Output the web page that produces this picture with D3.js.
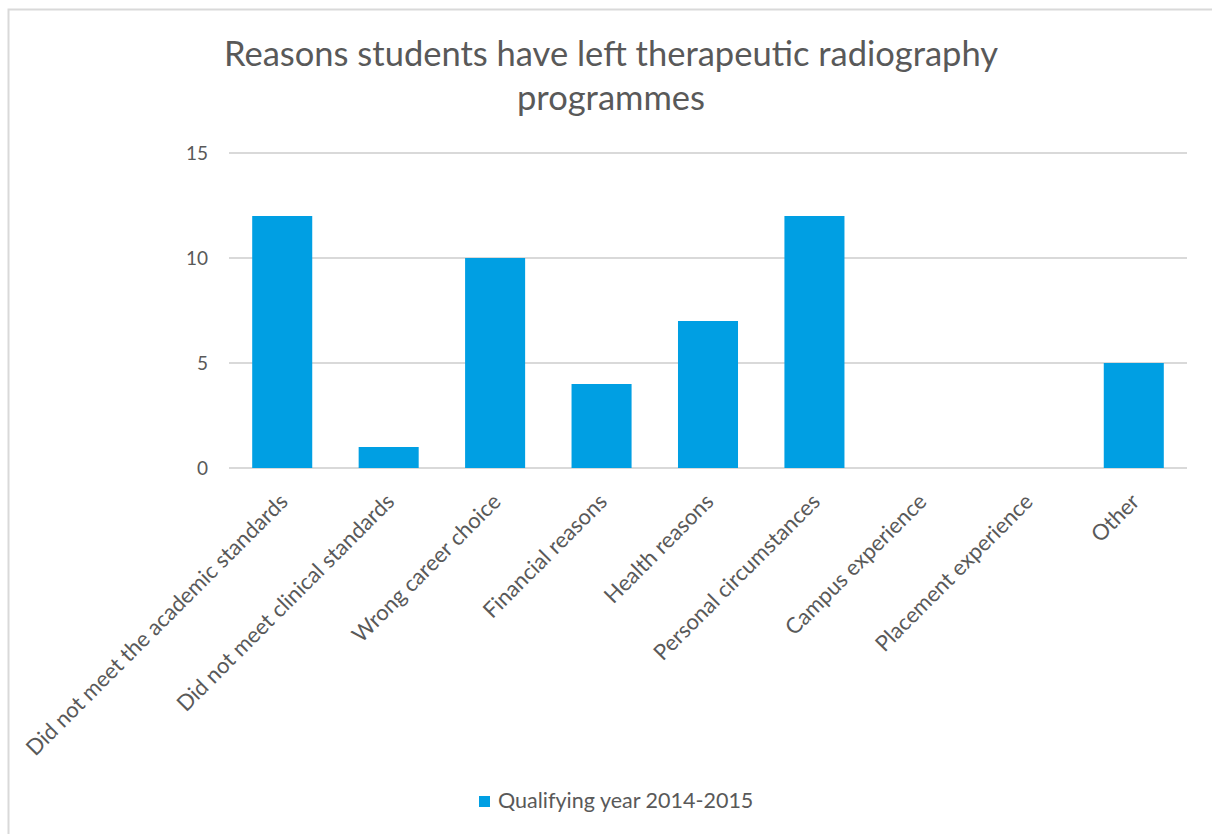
<!DOCTYPE html>
<html><head><meta charset="utf-8">
<script src="https://cdn.jsdelivr.net/npm/d3@7"></script>
<style>body{margin:0;background:#fff}svg{display:block}text{font-family:Lato,"Open Sans",sans-serif}</style>
</head><body><svg id="c" width="1212" height="834"></svg>
<script>
const categories = ["Did not meet the academic standards","Did not meet clinical standards","Wrong career choice","Financial reasons","Health reasons","Personal circumstances","Campus experience","Placement experience","Other"];
const values = [12,1,10,4,7,12,0,0,5];
const yTicks = [0,5,10,15];
const seriesName = "Qualifying year 2014-2015";
const titleLines = ["Reasons students have left therapeutic radiography","programmes"];

const svg = d3.select("#c");
const W=1212,H=834;
const m={left:229,right:1187,top:153,bottom:468};
const barColor="#009FE3", textColor="#595959", gridColor="#D9D9D9";

// chart border
svg.append("rect").attr("x",8.5).attr("y",9.5).attr("width",W+20).attr("height",H+20)
  .attr("fill","none").attr("stroke","#D9D9D9").attr("stroke-width",2);

const x=d3.scaleBand().domain(categories).range([m.left,m.right]).paddingInner(0.436).paddingOuter(0.218);
const y=d3.scaleLinear().domain([0,15]).range([m.bottom,m.top]);

// gridlines
svg.append("g").selectAll("line").data(yTicks).join("line")
  .attr("x1",m.left).attr("x2",m.right).attr("y1",d=>y(d)).attr("y2",d=>y(d))
  .attr("stroke",gridColor).attr("stroke-width",2);

// y axis labels
const ya=svg.append("g").attr("transform",`translate(${m.left-21},0)`)
  .call(d3.axisLeft(y).tickValues(yTicks).tickSize(0).tickPadding(0));
ya.select(".domain").remove();
ya.selectAll("text").attr("fill",textColor).style("font-size","19px").style("font-family","Lato,sans-serif");

// bars
svg.append("g").selectAll("rect").data(values).join("rect")
  .attr("x",(d,i)=>x(categories[i])).attr("width",x.bandwidth())
  .attr("y",d=>y(d)).attr("height",d=>y(0)-y(d)).attr("fill",barColor);

// x labels
const xa=svg.append("g").attr("transform",`translate(0,${m.bottom})`)
  .call(d3.axisBottom(x).tickSize(0).tickPadding(0));
xa.select(".domain").remove();
xa.selectAll("text").attr("fill",textColor).style("font-size","22px").style("font-family","Lato,sans-serif")
  .attr("text-anchor","end").attr("dy",null).attr("y",0)
  .attr("transform","translate(7,35) rotate(-45)");

// title
svg.append("g").selectAll("text").data(titleLines).join("text")
  .attr("x",611).attr("y",(d,i)=>66+i*44).attr("text-anchor","middle")
  .attr("fill",textColor).style("font-size","34.5px").text(d=>d);

// legend
const lg=svg.append("g");
lg.append("rect").attr("x",479).attr("y",796).attr("width",11).attr("height",11).attr("fill",barColor);
lg.append("text").attr("x",498).attr("y",808).attr("fill",textColor).style("font-size","21.5px").text(seriesName);
</script></body></html>
